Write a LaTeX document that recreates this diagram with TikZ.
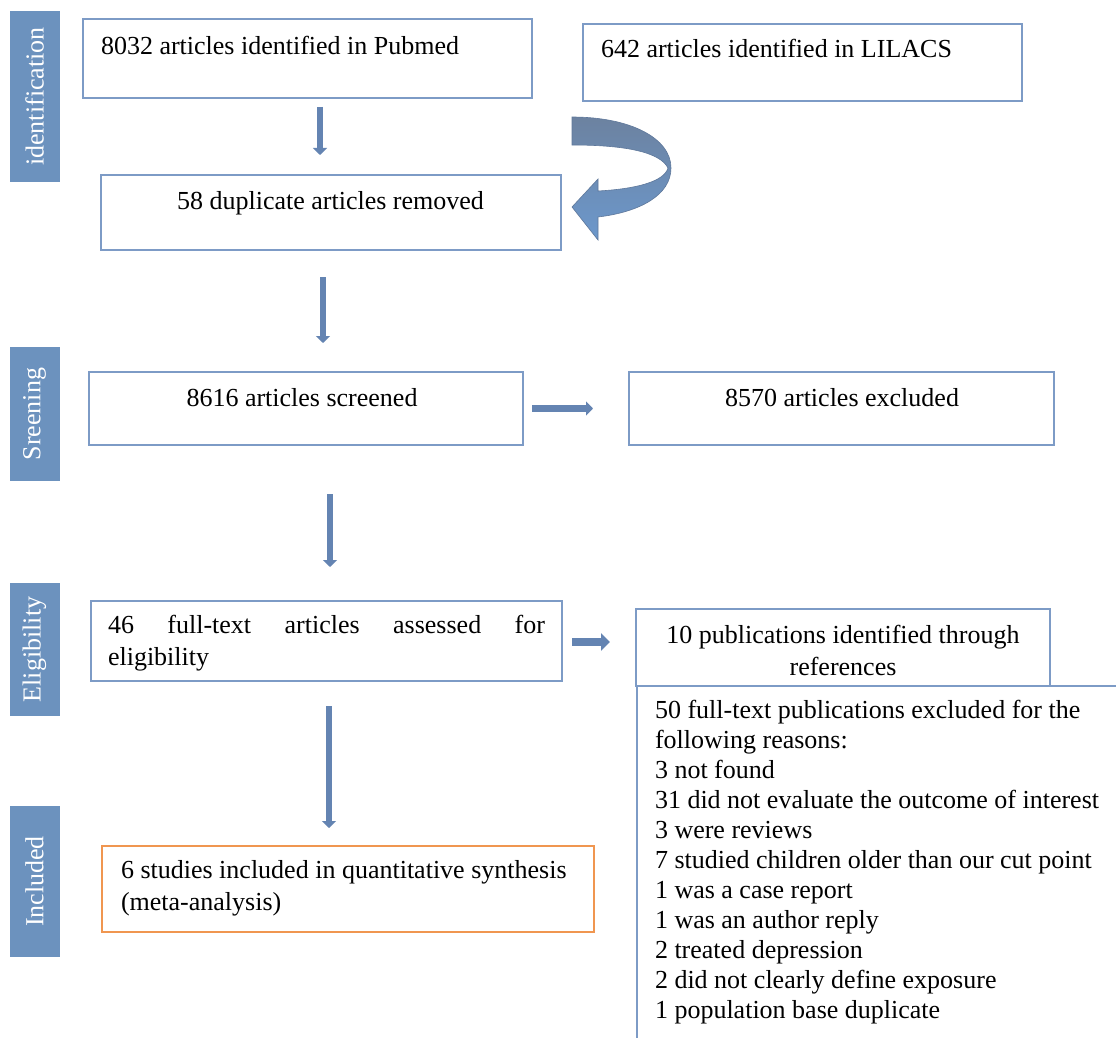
\documentclass[tikz,border=0pt]{standalone}
\usepackage{fontspec}
\setmainfont{Liberation Serif}
\usetikzlibrary{arrows.meta,calc}
\definecolor{boxblue}{RGB}{125,155,198}
\definecolor{sideblue}{RGB}{108,146,190}
\definecolor{arrowblue}{RGB}{100,132,178}
\definecolor{boxorange}{RGB}{240,150,80}
\definecolor{curvetop}{RGB}{108,130,160}
\definecolor{curvebot}{RGB}{108,152,204}
\definecolor{curveline}{RGB}{95,120,155}
\begin{document}
\begin{tikzpicture}[x=1pt,y=-1pt,
  every node/.style={inner sep=0pt, outer sep=0pt},
  box/.style={draw=boxblue, line width=1.6pt, rectangle, anchor=north west},
  txt/.style={font=\fontsize{26pt}{32pt}\selectfont},
  side/.style={fill=sideblue, rotate=90, text=white,
    font=\fontsize{26pt}{31pt}\selectfont, minimum height=50pt},
  blockarrow/.style={draw=arrowblue, line width=6.5pt,
    -{Triangle[width=14pt,length=7pt]}},
  fatarrow/.style={draw=arrowblue, line width=8pt,
    -{Triangle[width=17pt,length=9pt]}},
]
\path[use as bounding box, fill=white] (0,0) rectangle (1116,1038);
\clip (0,0) rectangle (1116,1038);

% side labels
\node[side, minimum width=171pt] (sideid) at (34.5,96.5) {identification};
\node[side, minimum width=134pt] (sidescr) at (34.5,414) {Sreening};
\node[side, minimum width=133pt] (sideel) at (34.5,649.5) {Eligibility};
\node[side, minimum width=151pt] (sidein) at (34.5,881.5) {Included};

% boxes
\node[box, minimum width=449pt, minimum height=79pt] (pubmed) at (83,19) {};
\node[txt, anchor=base west] (pubmedt) at (101,55) {8032 articles identified in Pubmed};

\node[box, minimum width=439pt, minimum height=77pt] (lilacs) at (583,24) {};
\node[txt, anchor=base west] (lilacst) at (601,58) {642 articles identified in LILACS};

\node[box, minimum width=460pt, minimum height=75pt] (dup) at (101,175) {};
\node[txt, anchor=base] (dupt) at (330.5,209) {58 duplicate articles removed};

\node[box, minimum width=434pt, minimum height=73pt] (scr) at (89,372) {};
\node[txt, anchor=base] (scrt) at (302,406) {8616 articles screened};

\node[box, minimum width=425pt, minimum height=73pt] (exc) at (629,372) {};
\node[txt, anchor=base] (exct) at (842,406) {8570 articles excluded};

\node[box, minimum width=471pt, minimum height=80pt] (elig) at (91,601) {};
\node[txt, anchor=base west] (eligt) at (108,633)
  {\parbox[t]{437pt}{\makebox[437pt][s]{46 full-text articles assessed for}\\eligibility}};

\node[box, minimum width=414pt, minimum height=77pt] (tenpub) at (636,609) {};
\node[txt, anchor=base] (tenpubt) at (843,643)
  {\parbox[t]{410pt}{\centering 10 publications identified through\\references}};

\node[box, minimum width=520pt, minimum height=400pt] (reasons) at (637,686) {};
\node[txt, anchor=base west] (reasonst) at (655,718)
  {\parbox[t]{460pt}{\fontsize{26pt}{30pt}\selectfont\raggedright
   50 full-text publications excluded for the\\
   following reasons:\\
   3 not found\\
   31 did not evaluate the outcome of interest\\
   3 were reviews\\
   7 studied children older than our cut point\\
   1 was a case report\\
   1 was an author reply\\
   2 treated depression\\
   2 did not clearly define exposure\\
   1 population base duplicate}};

\node[box, draw=boxorange, minimum width=492pt, minimum height=86pt] (incl) at (102,846) {};
\node[txt, anchor=base west] (inclt) at (121,878)
  {\parbox[t]{470pt}{6 studies included in quantitative synthesis\\(meta-analysis)}};

% block arrows
\draw[blockarrow] ($(pubmed.south)+(12.5,9)$) -- ($(dup.north)+(-11,-20)$);
\draw[blockarrow] ($(dup.south)+(-8,27)$) -- ($(scr.north)+(17,-29)$);
\draw[blockarrow] ($(scr.south)+(24,49)$) -- ($(elig.north)+(3.5,-34)$);
\draw[blockarrow] ($(elig.south)+(2.5,25)$) -- ($(incl.north)+(-19,-18)$);
\draw[blockarrow] ($(scr.east)+(9,0)$) -- ($(exc.west)+(-36,0)$);
\draw[fatarrow] ($(elig.east)+(10,1)$) -- ($(tenpub.west)+(-26,-5.5)$);

% curved arrow from LILACS to duplicates
\path[draw=curveline, line width=0.6pt, top color=curvetop, bottom color=curvebot]
  (572,117) .. controls (630,117) and (671,138) .. (671,168)
  .. controls (671,195) and (640,212) .. (598,217)
  -- (598,240) -- (572,207) -- (598,179) -- (598,191)
  .. controls (635,189) and (664,182) .. (668,168)
  .. controls (660,152) and (625,145) .. (572,145) -- cycle;
\end{tikzpicture}
\end{document}
